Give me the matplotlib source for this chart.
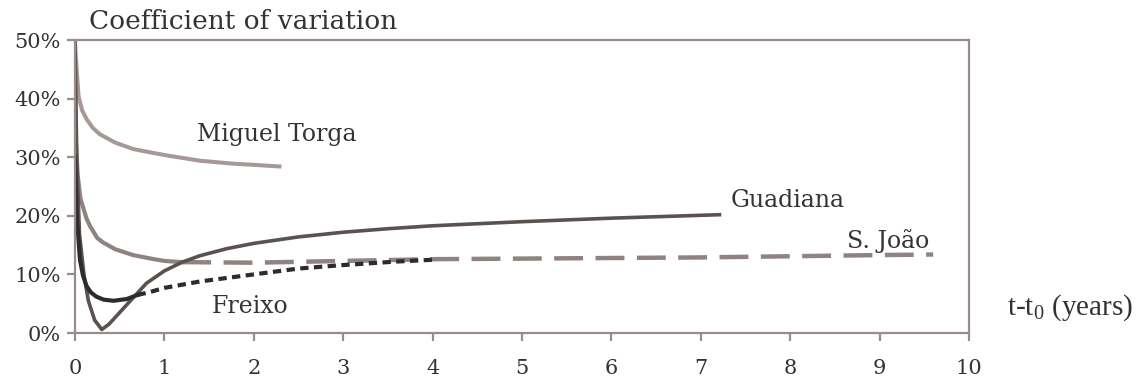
import matplotlib
matplotlib.use("Agg")
import matplotlib.pyplot as plt
from matplotlib.ticker import FuncFormatter

# values (x in years, y as fraction)
miguel_x = [0.0, 0.01, 0.04, 0.08, 0.13, 0.2, 0.28, 0.45, 0.65, 0.85, 1.03, 1.4, 1.77, 2.0, 2.31]
miguel_y = [0.50, 0.47, 0.404, 0.38, 0.365, 0.35, 0.339, 0.325, 0.314, 0.308, 0.303, 0.294, 0.289, 0.287, 0.284]

guad_x = [0.0, 0.02, 0.05, 0.1, 0.15, 0.22, 0.3, 0.38, 0.47, 0.65, 0.8, 1.0, 1.2, 1.4, 1.7,
          2.0, 2.5, 3.0, 3.5, 4.0, 5.0, 6.0, 7.23]
guad_y = [0.50, 0.30, 0.17, 0.10, 0.055, 0.022, 0.006, 0.015, 0.03, 0.06, 0.085, 0.106, 0.121,
          0.132, 0.144, 0.153, 0.164, 0.172, 0.178, 0.183, 0.19, 0.196, 0.202]

joao_x = [0.0, 0.01, 0.03, 0.06, 0.09, 0.13, 0.17, 0.25, 0.32, 0.45, 0.65, 0.85, 1.0, 1.2]
joao_y = [0.42, 0.33, 0.27, 0.23, 0.215, 0.195, 0.182, 0.162, 0.154, 0.143, 0.133, 0.127, 0.123, 0.121]
joao_ext_x = [1.2, 2.0, 3.0, 4.0, 5.0, 6.0, 7.0, 8.0, 9.0, 9.6]
joao_ext_y = [0.121, 0.120, 0.123, 0.126, 0.127, 0.128, 0.129, 0.131, 0.133, 0.134]

freixo_x = [0.0, 0.02, 0.056, 0.09, 0.13, 0.18, 0.24, 0.32, 0.43, 0.58, 0.7]
freixo_y = [0.30, 0.20, 0.125, 0.098, 0.08, 0.069, 0.062, 0.057, 0.055, 0.058, 0.065]
freixo_ext_x = [0.7, 0.84, 1.0, 1.4, 2.0, 2.5, 3.0, 3.6, 4.0]
freixo_ext_y = [0.065, 0.07, 0.077, 0.088, 0.100, 0.110, 0.116, 0.122, 0.125]

x_ticks = list(range(0, 11))
y_ticks = [0.0, 0.1, 0.2, 0.3, 0.4, 0.5]

c_miguel = "#a59896"
c_guad = "#5b5250"
c_joao = "#8f8280"
c_freixo = "#2c2c30"
c_axis = "#9a8c8a"
c_text = "#333333"

plt.rcParams['font.family'] = ['DejaVu Serif']

fig = plt.figure(figsize=(11.48, 3.83), dpi=100)
ax = fig.add_axes([0.0653, 0.1305, 0.7787, 0.765])

ax.plot(miguel_x, miguel_y, color=c_miguel, lw=2.9, solid_capstyle='butt')
ax.plot(joao_x, joao_y, color=c_joao, lw=3.0)
ax.plot(joao_ext_x, joao_ext_y, color=c_joao, lw=3.2, dashes=(6.5, 2.8))
ax.plot(guad_x, guad_y, color=c_guad, lw=2.6, solid_capstyle='butt')
ax.plot(freixo_x, freixo_y, color=c_freixo, lw=3.0)
ax.plot(freixo_ext_x, freixo_ext_y, color=c_freixo, lw=3.0, dashes=(2.0, 1.3))

ax.set_xlim(0, 10)
ax.set_ylim(0, 0.5)
ax.set_xticks(x_ticks)
ax.set_yticks(y_ticks)
ax.yaxis.set_major_formatter(FuncFormatter(lambda v, p: f"{v * 100:.0f}%"))

for s in ax.spines.values():
    s.set_color(c_axis)
    s.set_linewidth(1.6)
ax.tick_params(axis='both', colors=c_axis, width=1.6, length=6, direction='out',
               labelcolor=c_text, labelsize=15)
ax.tick_params(axis='x', pad=13)
ax.tick_params(axis='y', pad=4)

fs = 17
ax.text(0.16, 0.532, "Coefficient of variation", fontsize=19, color=c_text,
        va='center', ha='left', clip_on=False)
ax.text(1.36, 0.338, "Miguel Torga", fontsize=fs, color=c_text, va='center', ha='left')
ax.text(7.34, 0.226, "Guadiana", fontsize=fs, color=c_text, va='center', ha='left')
ax.text(8.64, 0.157, "S. João", fontsize=fs, color=c_text, va='center', ha='left')
ax.text(1.53, 0.046, "Freixo", fontsize=fs, color=c_text, va='center', ha='left')
ax.text(10.43, 0.044, r"t-t$_\mathregular{0}$ (years)", fontsize=21, color=c_text,
        va='center', ha='left', family='Liberation Serif', clip_on=False)

fig.savefig("out.png", dpi=100)
